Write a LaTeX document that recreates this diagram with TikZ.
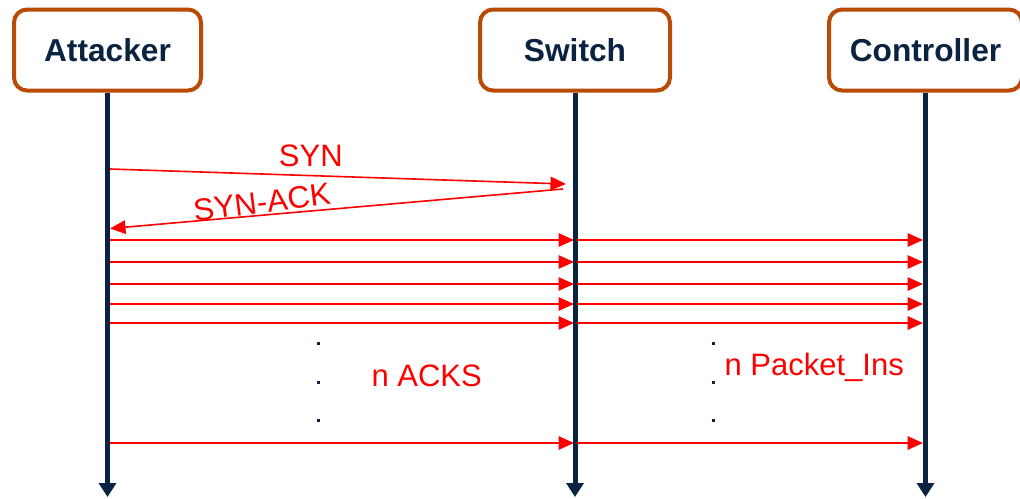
\documentclass[tikz,border=0pt]{standalone}
\usepackage{fontspec}
\setmainfont{Liberation Sans}
\usetikzlibrary{arrows.meta}
\definecolor{boxedge}{RGB}{185,75,5}
\definecolor{navy}{RGB}{10,35,65}
\definecolor{msgred}{RGB}{255,0,0}
\begin{document}
\begin{tikzpicture}[x=1pt,y=-1pt,
  actor/.style={draw=boxedge, line width=4pt, rounded corners=13pt, fill=white,
    minimum height=81pt, inner sep=0pt, text=navy,
    font=\fontsize{31.7}{36}\selectfont\bfseries},
  lifeline/.style={draw=navy, line width=5pt, -{Triangle[length=14pt,width=17pt]}},
  msg/.style={draw=msgred, line width=1.6pt, -{Triangle[length=15.5pt,width=13.5pt]}},
  lbl/.style={text=msgred, inner sep=0pt, font=\fontsize{31}{36}\selectfont},
  dotmark/.style={fill=navy}]
  \clip (0,0) rectangle (1020,498);

  % participants
  \node[actor, minimum width=187pt] (att) at (107.5,50) {Attacker};
  \node[actor, minimum width=190pt] (sw)  at (575,50)   {Switch};
  \node[actor, minimum width=193pt] (ctl) at (925.5,50) {Controller};

  % lifelines
  \coordinate (attEnd) at (107.5,497);
  \coordinate (swEnd)  at (575,497);
  \coordinate (ctlEnd) at (925.5,497);
  \draw[lifeline] (att.south) -- (attEnd);
  \draw[lifeline] (sw.south)  -- (swEnd);
  \draw[lifeline] (ctl.south) -- (ctlEnd);

  % handshake
  \coordinate (synA) at (110,169);
  \coordinate (synS) at (566,184);
  \draw[msg] (synA) -- (synS);
  \node[lbl, anchor=base] (synlbl) at (310.8,166.7) {SYN};

  \coordinate (ackS) at (563,189);
  \coordinate (ackA) at (110,228.5);
  \draw[msg] (ackS) -- (ackA);
  \node[lbl, anchor=base, rotate=7.2] (acklbl) at (263.3,212.9) {SYN-ACK};

  % flood of ACKs and the resulting packet-ins
  \foreach \r/\y in {1/240,2/262,3/284,4/304,5/323,6/443}{
    \coordinate (a\r) at (110,\y);
    \coordinate (s\r) at (574,\y);
    \coordinate (t\r) at (577,\y);
    \coordinate (c\r) at (923,\y);
    \draw[msg] (a\r) -- (s\r);
    \draw[msg] (t\r) -- (c\r);
  }

  % ellipsis dots
  \foreach \x in {318.3,713.3}{
    \foreach \y in {343.3,382.3,420}{
      \fill[dotmark] (\x-1.5,\y-1.5) rectangle ++(3,3);
    }
  }

  \node[lbl, anchor=base] (acks) at (426.7,386) {n ACKS};
  \node[lbl, anchor=base] (pins) at (814.2,375.7) {n Packet\_Ins};
\end{tikzpicture}
\end{document}
